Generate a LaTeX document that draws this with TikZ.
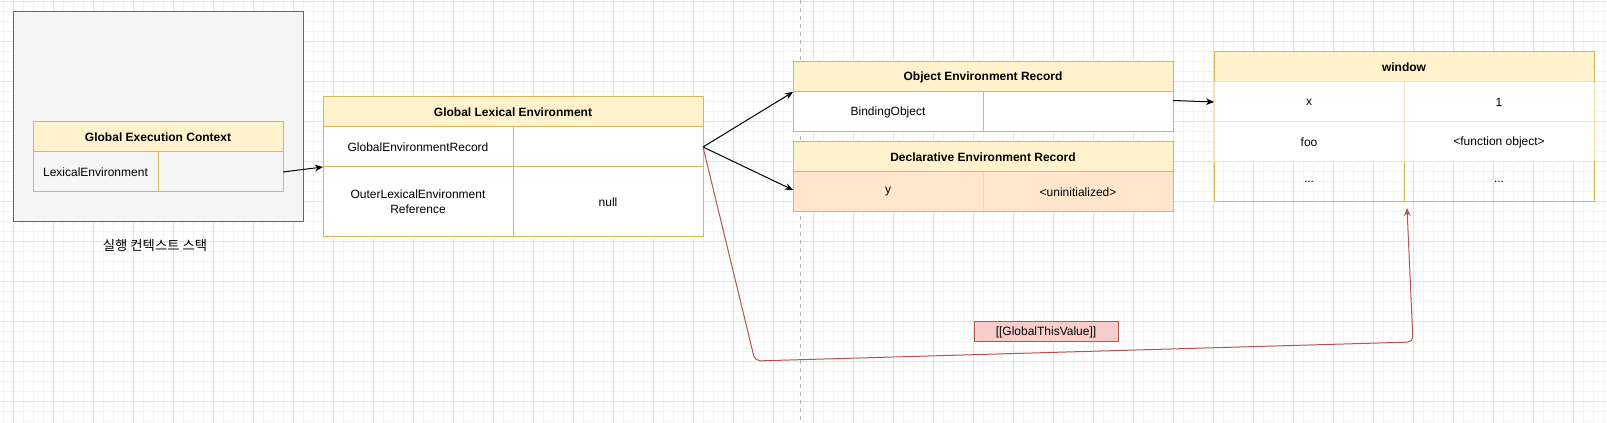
\documentclass[tikz,border=0pt]{standalone}
\usepackage{fontspec}
\setmainfont{Liberation Sans}
\newfontfamily\krfont{Noto Sans CJK KR}
\usetikzlibrary{fit,calc,arrows.meta}
\definecolor{dgold}{HTML}{D6B656}
\definecolor{ygold}{HTML}{FFF2CC}
\definecolor{pgold}{HTML}{F3E6BF}
\definecolor{peach}{HTML}{FFE6CC}
\definecolor{peachline}{HTML}{F4D9A6}
\definecolor{redline}{HTML}{B85450}
\definecolor{redfill}{HTML}{F8CECC}
\definecolor{grayfill}{HTML}{F5F5F5}
\definecolor{graystroke}{HTML}{666666}
\definecolor{gridminor}{HTML}{F3F3F3}
\definecolor{gridmajor}{HTML}{E3E3E3}
\tikzset{
  base/.style={inner sep=0pt, outer sep=0pt, line width=0.75pt},
  txt/.style={inner sep=0pt, outer sep=0pt, font=\fontsize{9}{11}\selectfont, align=center},
  btxt/.style={txt, font=\fontsize{9}{11}\selectfont\bfseries},
  hdr/.style={base, draw=dgold, fill=ygold},
  cellw/.style={base, draw=dgold, fill=white},
  cellt/.style={base, draw=dgold},
  cellp/.style={base, draw=pgold, fill=white},
  cellpe/.style={base, draw=peachline, fill=peach},
  conn/.style={line width=0.75pt, -{Stealth[length=6pt,width=5pt]}},
  redconn/.style={line width=0.75pt, draw=redline, rounded corners=4pt, -{Stealth[length=6pt,width=5pt,fill=redline]}},
}
\begin{document}
\begin{tikzpicture}[x=0.75pt,y=-0.75pt]
\useasboundingbox (0,0) rectangle (1607,423);
\fill[white] (0,0) rectangle (1607,423);
% grid
\foreach \x in {3,13,...,1603} \draw[gridminor,line width=0.75pt] (\x,0) -- (\x,423);
\foreach \y in {2,12,...,422} \draw[gridminor,line width=0.75pt] (0,\y) -- (1607,\y);
\foreach \x in {13,53,...,1573} \draw[gridmajor,line width=0.75pt] (\x,0) -- (\x,423);
\foreach \y in {2,42,...,402} \draw[gridmajor,line width=0.75pt] (0,\y) -- (1607,\y);
\draw[gray!60,dashed,line width=0.75pt] (800,0) -- (800,423);

% execution context stack
\node[base, draw=graystroke, fill=grayfill, fit={(13,12)(303,222)}] (stack) {};
\node[txt, font=\fontsize{10}{12}\selectfont] (stacklbl) at (155,246) {\krfont 실행 컨텍스트 스택};
\node[hdr, fit={(33,122)(283,152)}, label={[btxt]center:Global Execution Context}] (gec-h) {};
\node[cellt, fit={(33,152)(158,192)}, label={[txt]center:LexicalEnvironment}] (gec-a) {};
\node[cellt, fit={(158,152)(283,192)}] (gec-b) {};

% global lexical environment
\node[hdr, fit={(323,97)(703,127)}, label={[btxt]center:Global Lexical Environment}] (gle-h) {};
\node[cellw, fit={(323,127)(513,167)}, label={[txt]center:GlobalEnvironmentRecord}] (gle-r1a) {};
\node[cellw, fit={(513,127)(703,167)}] (gle-r1b) {};
\node[cellw, fit={(323,167)(513,237)}, label={[txt]center:OuterLexicalEnvironment\\Reference}] (gle-r2a) {};
\node[cellw, fit={(513,167)(703,237)}, label={[txt]center:null}] (gle-r2b) {};

% object environment record
\node[hdr, fit={(793,62)(1173,92)}, label={[btxt]center:Object Environment Record}] (oer-h) {};
\node[cellw, fit={(793,92)(983,132)}, label={[txt]center:BindingObject}] (oer-a) {};
\node[cellw, fit={(983,92)(1173,132)}] (oer-b) {};

% declarative environment record
\node[hdr, fit={(793,142)(1173,172)}, label={[btxt]center:Declarative Environment Record}] (der-h) {};
\node[cellpe, fit={(793,172)(983,212)}, label={[txt]center:y}] (der-a) {};
\node[cellpe, fit={(983,172)(1173,212)}, label={[txt]center:<uninitialized>}] (der-b) {};
\draw[dgold,line width=0.75pt] (der-h.south west) rectangle (der-b.south east);

% window
\node[hdr, fit={(1214,52)(1594,82)}, label={[btxt]center:window}] (win-h) {};
\node[cellp, fit={(1214,82)(1404,122)}, label={[txt]center:x}] (win-xa) {};
\node[cellp, fit={(1404,82)(1594,122)}, label={[txt]center:1}] (win-xb) {};
\node[cellp, fit={(1214,122)(1404,162)}, label={[txt]center:foo}] (win-fa) {};
\node[cellp, fit={(1404,122)(1594,162)}, label={[txt]center:<function object>}] (win-fb) {};
\node[cellt, fit={(1214,162)(1404,202)}, label={[txt]center:...}] (win-da) {};
\node[cellt, fit={(1404,162)(1594,202)}, label={[txt]center:...}] (win-db) {};
\draw[pgold,line width=0.75pt] (win-da.north west) -- (win-db.north east);
\draw[dgold,line width=0.75pt] (win-h.south west) -- (win-h.north west) -- (win-h.north east) -- (win-h.south east);

% connectors
\draw[conn] (gec-b.east) -- (gle-r2a.north west);
\draw[conn] (gle-r1b.east) -- (oer-a.north west);
\draw[conn] (gle-r1b.east) -- ($(der-a.west)+(0,-2)$);
\draw[conn] ($(oer-b.north east)+(0,8.5)$) -- (win-xa.west);

\coordinate (rc1) at (755,361);
\coordinate (rc2) at (1413,342);
\coordinate (rtip) at (1407,208);
\draw[redconn] (gle-r1b.east) -- (rc1) -- (rc2) -- (rtip);
\node[base, draw=redline, fill=redfill, fit={(974,322)(1118,342)}, label={[txt]center:[[GlobalThisValue]]}] (gtv) {};
\end{tikzpicture}
\end{document}
